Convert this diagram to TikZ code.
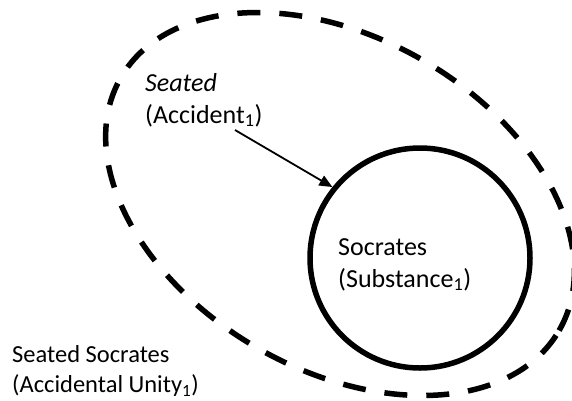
\documentclass[tikz,border=0pt]{standalone}
\usepackage{fontspec}
\setmainfont{Carlito}
\usetikzlibrary{shapes.geometric,arrows.meta}
\begin{document}
\begin{tikzpicture}[x=1pt,y=-1pt,
  lbl/.style={inner sep=0pt, anchor=base west, font=\fontsize{26}{32}\selectfont},
  lblsmall/.style={inner sep=0pt, anchor=base west, font=\fontsize{24.5}{30.5}\selectfont},
  thick border/.style={draw, line width=5.5pt, inner sep=0pt},
  pointer/.style={line width=1.8pt, -{Triangle[length=13pt,width=11pt]}}]
\useasboundingbox (0,0) rectangle (572,400);
\node[thick border, ellipse, dash pattern=on 23pt off 19pt,
      minimum width=506pt, minimum height=332pt, rotate=-30] (unity) at (340,204) {};
\node[thick border, circle, minimum size=220pt] (soc) at (420,258) {};
\node[lbl] (acc) at (145,91) {\begin{tabular}[t]{@{}l@{}}\textit{Seated}\\(Accident\textsubscript{1})\end{tabular}};
\node[lbl] (subst) at (338,255) {\begin{tabular}[t]{@{}l@{}}Socrates\\(Substance\textsubscript{1})\end{tabular}};
\node[lblsmall] (au) at (12,362) {\begin{tabular}[t]{@{}l@{}}Seated Socrates\\(Accidental Unity\textsubscript{1})\end{tabular}};
\coordinate (a1) at (235,130);
\draw[pointer] (a1) -- (soc.141);
\end{tikzpicture}
\end{document}
